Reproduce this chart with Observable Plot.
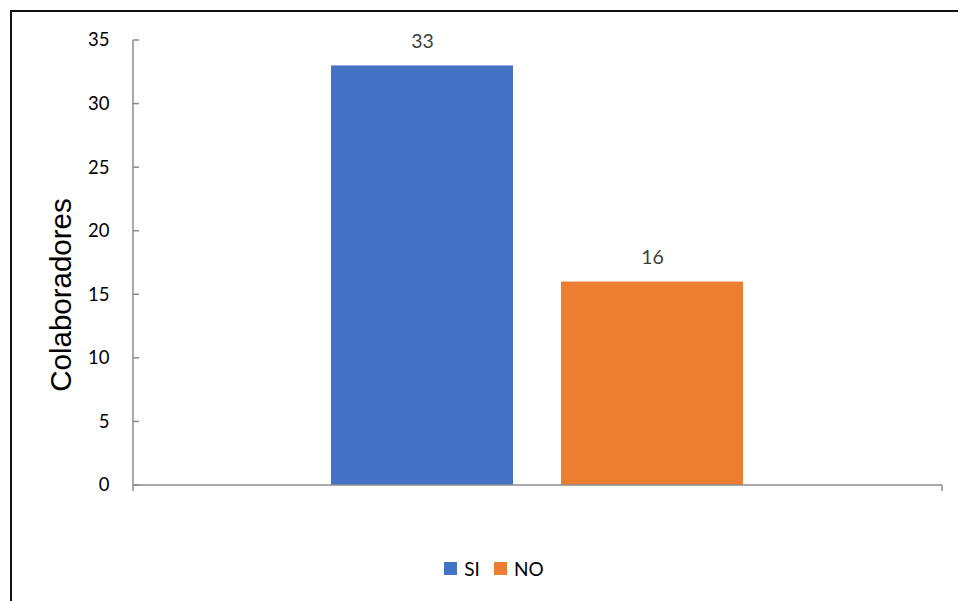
<!DOCTYPE html>
<html>
<head>
<meta charset="utf-8">
<script src="https://cdn.jsdelivr.net/npm/d3@7"></script>
<script src="https://cdn.jsdelivr.net/npm/@observablehq/plot@0.6"></script>
<style>
  html, body { margin: 0; padding: 0; background: #fff; }
  #wrap { position: relative; width: 958px; height: 601px; overflow: hidden; background: #fff; }
  #frame { position: absolute; left: 10px; top: 10px; width: 1000px; height: 700px;
           border-top: 2px solid #111; border-left: 2px solid #111; }
  #chart { position: absolute; left: 0; top: 0; }
  #legend { position: absolute; left: 0; top: 557px; width: 958px; display: flex; justify-content: center;
            font-family: Lato, "Liberation Sans", sans-serif; font-size: 19px; color: #000; padding-left: 30px; box-sizing: border-box; }
  .item { display: flex; align-items: center; margin: 0 7px; }
  .sw { width: 13px; height: 13px; margin-right: 7px; }
</style>
</head>
<body>
<div id="wrap">
  <div id="frame"></div>
  <div id="chart"></div>
  <div id="legend"></div>
</div>
<script>
const categories = ["SI", "NO"];
const values = [33, 16];
const colors = ["#4472C4", "#ED7D31"];
const yTicks = [0, 5, 10, 15, 20, 25, 30, 35];
const yLabel = "Colaboradores";

const data = categories.map((c, i) => ({cat: c, val: values[i]}));

const axisLines = (index, scales, values, dims) => {
  const y = scales.y;
  const x0 = dims.marginLeft;
  const x1 = dims.width - dims.marginRight;
  const g = d3.create("svg:g").attr("stroke", "#8c8c8c").attr("stroke-width", 1.5).attr("fill", "none");
  const ymax = y(d3.max(yTicks)), y0 = y(0);
  g.append("line").attr("x1", x0).attr("x2", x0).attr("y1", ymax).attr("y2", y0 + 6);
  g.append("line").attr("x1", x0).attr("x2", x1).attr("y1", y0).attr("y2", y0);
  g.append("line").attr("x1", x1).attr("x2", x1).attr("y1", y0).attr("y2", y0 + 6);
  for (const t of yTicks) {
    g.append("line").attr("x1", x0).attr("x2", x0 + 6).attr("y1", y(t)).attr("y2", y(t));
  }
  return g.node();
};

const chart = Plot.plot({
  width: 958,
  height: 520,
  marginLeft: 133,
  marginRight: 16,
  marginTop: 40,
  marginBottom: 35,
  style: {fontFamily: "Lato, 'Liberation Sans', sans-serif", background: "transparent"},
  x: {domain: categories, range: [331, 743], paddingInner: 0.2087, paddingOuter: 0, axis: null},
  y: {domain: [0, 35], axis: null},
  color: {domain: categories, range: colors},
  marks: [
    Plot.barY(data, {x: "cat", y: "val", fill: "cat"}),
    Plot.text(data, {x: "cat", y: "val", text: d => String(d.val), dy: -24, fill: "#404040", fontSize: 19.5}),
    Plot.axisY({ticks: yTicks, tickSize: 0, tickPadding: 24, fontSize: 18.5, fill: "#000", label: null}),
    axisLines,
    Plot.text([yLabel], {frameAnchor: "left", textAnchor: "middle", rotate: -90, dx: -72, dy: 32, fontSize: 29.5,
      fontFamily: "'Liberation Sans', Arial, sans-serif", fill: "#000"})
  ]
});
document.getElementById("chart").appendChild(chart);

const legend = document.getElementById("legend");
categories.forEach((c, i) => {
  const it = document.createElement("div");
  it.className = "item";
  const sw = document.createElement("div");
  sw.className = "sw";
  sw.style.background = colors[i];
  const lb = document.createElement("span");
  lb.textContent = c;
  it.appendChild(sw); it.appendChild(lb);
  legend.appendChild(it);
});
</script>
</body>
</html>
